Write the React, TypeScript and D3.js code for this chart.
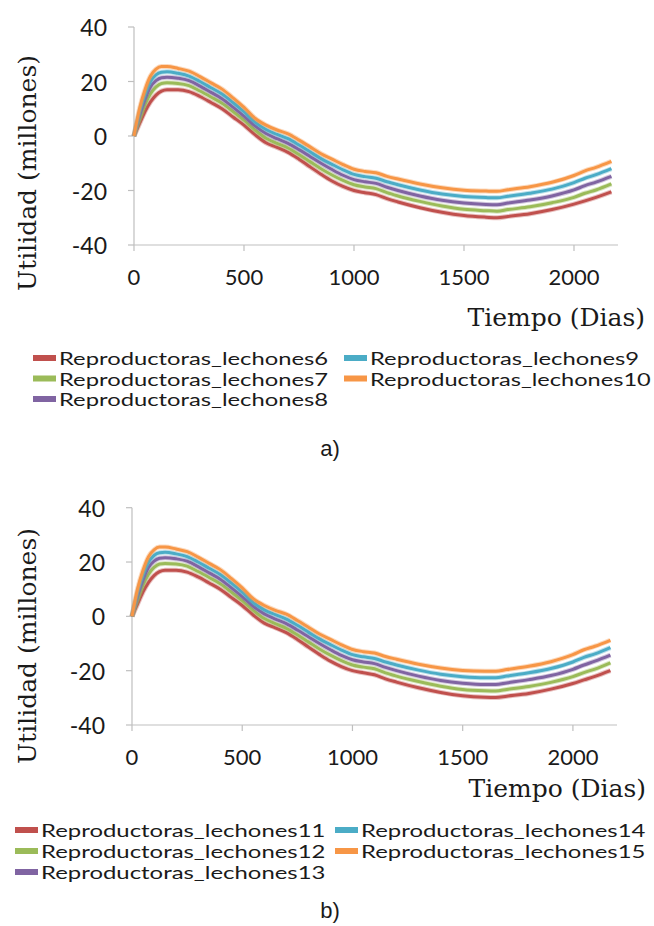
import React from "react";
import * as d3 from "d3";

const days = [0, 25, 50, 75, 100, 125, 150, 200, 250, 300, 350, 400, 450, 500, 550, 600, 650, 700, 750, 800, 850, 900, 950, 1000, 1050, 1100, 1150, 1200, 1300, 1400, 1500, 1600, 1650, 1700, 1800, 1900, 2000, 2050, 2100, 2170];

// Panel a
const lechones6 = [0, 4.5, 9, 12.5, 15, 16.5, 17, 17, 16.3, 14.5, 12.3, 10, 7, 4, 0.5, -2.5, -4.2, -6, -8.5, -11.3, -14, -16.5, -18.5, -20, -20.8, -21.5, -23, -24.2, -26.3, -28, -29.2, -29.8, -30, -29.5, -28.5, -27, -25, -23.8, -22.5, -20.5];
const lechones7 = [0, 6, 11.5, 15.5, 18, 19.3, 19.5, 19.3, 18.5, 16.5, 14.3, 12, 9, 5.8, 2.2, -0.8, -2.7, -4.4, -6.8, -9.4, -12, -14.3, -16.3, -17.9, -18.7, -19.3, -20.8, -22, -24, -25.7, -26.9, -27.4, -27.6, -27, -26, -24.5, -22.5, -21, -19.8, -17.6];
const lechones8 = [0, 7.5, 13.5, 18, 20.3, 21.4, 21.6, 21.2, 20.3, 18.3, 16, 13.7, 10.6, 7.3, 3.7, 0.9, -1, -2.7, -5, -7.5, -10, -12.3, -14.4, -16, -16.8, -17.4, -18.8, -20, -22, -23.6, -24.6, -25.1, -25.2, -24.6, -23.5, -22, -19.8, -18.2, -16.9, -14.8];
const lechones9 = [0, 8.8, 15.3, 20, 22.4, 23.4, 23.6, 23, 22, 20, 17.7, 15.4, 12.3, 8.9, 5.1, 2.4, 0.6, -1, -3.3, -5.8, -8.3, -10.4, -12.4, -14.1, -14.9, -15.5, -16.8, -17.9, -19.8, -21.3, -22.2, -22.6, -22.7, -22.1, -21, -19.5, -17.1, -15.5, -14.2, -12];
const lechones10 = [0, 10, 17, 22, 24.5, 25.5, 25.5, 24.8, 23.8, 21.8, 19.5, 17.2, 14, 10.5, 6.5, 4, 2.2, 0.8, -1.5, -4, -6.5, -8.5, -10.5, -12.2, -13, -13.5, -14.8, -15.8, -17.6, -19, -19.9, -20.2, -20.3, -19.7, -18.6, -17, -14.5, -12.8, -11.5, -9.3];

// Panel b
const lechones11 = [0, 4.5, 9, 12.5, 15, 16.5, 17, 17, 16.3, 14.5, 12.3, 10, 7, 4, 0.5, -2.5, -4.2, -6, -8.5, -11.3, -14, -16.5, -18.5, -20, -20.8, -21.5, -23, -24.2, -26.3, -28, -29.2, -29.8, -29.9, -29.4, -28.4, -26.8, -24.7, -23.4, -22.1, -20];
const lechones12 = [0, 6, 11.5, 15.5, 18, 19.3, 19.5, 19.3, 18.5, 16.5, 14.3, 12, 9, 5.8, 2.2, -0.8, -2.7, -4.4, -6.8, -9.4, -12, -14.3, -16.3, -17.9, -18.7, -19.3, -20.8, -22, -24, -25.7, -26.9, -27.4, -27.5, -26.9, -25.8, -24.3, -22.2, -20.7, -19.4, -17.1];
const lechones13 = [0, 7.5, 13.5, 18, 20.3, 21.4, 21.6, 21.2, 20.3, 18.3, 16, 13.7, 10.6, 7.3, 3.7, 0.9, -1, -2.7, -5, -7.5, -10, -12.3, -14.4, -16, -16.8, -17.4, -18.8, -20, -22, -23.6, -24.6, -25.1, -25.1, -24.5, -23.3, -21.8, -19.5, -17.9, -16.5, -14.3];
const lechones14 = [0, 8.8, 15.3, 20, 22.4, 23.4, 23.6, 23, 22, 20, 17.7, 15.4, 12.3, 8.9, 5.1, 2.4, 0.6, -1, -3.3, -5.8, -8.3, -10.4, -12.4, -14.1, -14.9, -15.5, -16.8, -17.9, -19.8, -21.3, -22.2, -22.6, -22.6, -22, -20.8, -19.2, -16.8, -15.1, -13.8, -11.5];
const lechones15 = [0, 10, 17, 22, 24.5, 25.5, 25.5, 24.8, 23.8, 21.8, 19.5, 17.2, 14, 10.5, 6.5, 4, 2.2, 0.8, -1.5, -4, -6.5, -8.5, -10.5, -12.2, -13, -13.5, -14.8, -15.8, -17.6, -19, -19.9, -20.2, -20.2, -19.6, -18.4, -16.7, -14.1, -12.3, -11, -8.8];

const seriesColors = ["#C0504D", "#9BBB59", "#8064A2", "#4BACC6", "#F79646"];
const labelsA = ["Reproductoras_lechones6", "Reproductoras_lechones7", "Reproductoras_lechones8", "Reproductoras_lechones9", "Reproductoras_lechones10"];
const labelsB = ["Reproductoras_lechones11", "Reproductoras_lechones12", "Reproductoras_lechones13", "Reproductoras_lechones14", "Reproductoras_lechones15"];
const xTicks = [0, 500, 1000, 1500, 2000];
const yTicks = [-40, -20, 0, 20, 40];

const SANS = "Lato, 'Open Sans', sans-serif";
const SERIF = "'DejaVu Serif', serif";

type PanelProps = {
  series: number[][];
  labels: string[];
  caption: string;
  xRange: [number, number];
  yRange: [number, number];
  yLabelRight: number;
  xLabelBase: number;
  titleY: number;
  xTitleBase: number;
  xTitleEnd: number;
  legendRows: number[];
  legendCols: number[];
  charW: number;
  captionBase: number;
};

function Panel(p: PanelProps) {
  const x = d3.scaleLinear().domain([0, 2200]).range(p.xRange);
  const y = d3.scaleLinear().domain([-40, 40]).range(p.yRange);
  const line = d3
    .line<number>()
    .x((_, i) => x(days[i]))
    .y((v) => y(v))
    .curve(d3.curveMonotoneX);
  const axisColor = "#BFBFBF";
  const x0 = x(0);
  const yBottom = y(-40);
  return (
    <g>
      <line x1={x0} x2={x0} y1={y(40)} y2={yBottom} stroke={axisColor} strokeWidth={1.2} />
      {yTicks.map((t) => (
        <g key={"yt" + t}>
          <line x1={x0 - 6} x2={x0} y1={y(t)} y2={y(t)} stroke={axisColor} strokeWidth={1.2} />
          <text x={p.yLabelRight} y={y(t)} textAnchor="end" dominantBaseline="central" fontFamily={SANS} fontSize={23} fill="#1a1a1a">
            {t}
          </text>
        </g>
      ))}
      <line x1={x0} x2={x(2200)} y1={yBottom} y2={yBottom} stroke={axisColor} strokeWidth={1.2} />
      {xTicks.map((t) => (
        <g key={"xt" + t}>
          <line x1={x(t)} x2={x(t)} y1={yBottom} y2={yBottom + 6} stroke={axisColor} strokeWidth={1.2} />
          <text x={x(t)} y={p.xLabelBase} textAnchor="middle" fontFamily={SANS} fontSize={22} fill="#1a1a1a">
            {t}
          </text>
        </g>
      ))}
      {p.series.map((s, i) => (
        <g key={"s" + i}>
          <path d={line(s) || ""} fill="none" stroke={seriesColors[i]} strokeOpacity={0.35} strokeWidth={5} strokeLinejoin="round" />
          <path d={line(s) || ""} fill="none" stroke={seriesColors[i]} strokeWidth={3} strokeLinejoin="round" />
        </g>
      ))}
      <text
        transform={`translate(27,${p.titleY}) rotate(-90)`}
        textAnchor="middle"
        dominantBaseline="central"
        fontFamily={SERIF}
        fontSize={25}
        fill="#1a1a1a"
      >
        Utilidad (millones)
      </text>
      <text x={p.xTitleEnd} y={p.xTitleBase} textAnchor="end" fontFamily={SERIF} fontSize={25} fill="#1a1a1a">
        Tiempo (Dias)
      </text>
      {p.labels.map((lab, i) => {
        const col = i < 3 ? 0 : 1;
        const row = i < 3 ? i : i - 3;
        const sx = p.legendCols[col];
        const cy = p.legendRows[row];
        return (
          <g key={"lg" + i}>
            <rect x={sx} y={cy - 3} width={23} height={6} fill={seriesColors[i]} />
            <text
              x={sx + 26}
              y={cy}
              dominantBaseline="central"
              fontFamily={SANS}
              fontSize={18}
              fill="#1a1a1a"
              textLength={lab.length * p.charW}
              lengthAdjust="spacingAndGlyphs"
            >
              {lab}
            </text>
          </g>
        );
      })}
      <text x={330} y={p.captionBase} textAnchor="middle" fontFamily="'Liberation Sans', Arial, sans-serif" fontSize={22} fill="#1a1a1a">
        {p.caption}
      </text>
    </g>
  );
}

export default function App() {
  return (
    <svg width={654} height={926} style={{ position: "absolute", left: 0, top: 0, background: "#fff" }}>
      <rect width={654} height={926} fill="#fff" />
      <Panel
        series={[lechones6, lechones7, lechones8, lechones9, lechones10]}
        labels={labelsA}
        caption="a)"
        xRange={[134, 618]}
        yRange={[245, 27]}
        yLabelRight={107}
        xLabelBase={285}
        titleY={173}
        xTitleBase={326}
        xTitleEnd={645}
        legendRows={[358, 378.5, 399]}
        legendCols={[33, 344]}
        charW={11.7}
        captionBase={456}
      />
      <Panel
        series={[lechones11, lechones12, lechones13, lechones14, lechones15]}
        labels={labelsB}
        caption="b)"
        xRange={[132, 617]}
        yRange={[725, 507.7]}
        yLabelRight={105}
        xLabelBase={765}
        titleY={646}
        xTitleBase={797}
        xTitleEnd={646}
        legendRows={[830, 851, 872]}
        legendCols={[15, 335]}
        charW={11.85}
        captionBase={918}
      />
    </svg>
  );
}
